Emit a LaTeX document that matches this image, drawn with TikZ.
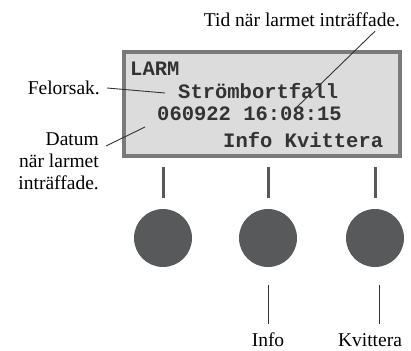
\documentclass[tikz,border=0pt]{standalone}
\usepackage{fontspec}
\setmainfont{Liberation Serif}
\setmonofont{Liberation Mono}
\definecolor{dispgray}{HTML}{7A7A7A}
\definecolor{dispbg}{HTML}{DCDCDC}
\definecolor{knobgray}{HTML}{58595B}
\definecolor{lcdtext}{HTML}{333333}
\usetikzlibrary{positioning}

\begin{document}
\begin{tikzpicture}[x=1pt, y=-1pt,
      disp/.style={draw=dispgray, fill=dispbg, line width=4pt,
                   minimum width=276pt, minimum height=103pt, inner sep=0pt},
      lcd/.style={font=\fontsize{20.5}{22}\selectfont\ttfamily\bfseries,
                  text=lcdtext, inner sep=0pt, anchor=base west},
      lbl/.style={font=\fontsize{19.5}{22}\selectfont, inner sep=0pt},
      knob/.style={circle, fill=knobgray, minimum size=58pt, inner sep=0pt},
      tick/.style={draw=knobgray, line width=3pt},
      lead/.style={draw=lcdtext, line width=0.9pt}
  ]
    \useasboundingbox (0,0) rectangle (411,350);
    % display
    \node[disp] (disp) at (262,104) {};
    \node[lcd] (larm) at (130,76) {LARM};
    \node[lcd] (orsak) at (178,98) {Strömbortfall};
    \node[lcd] (tid) at (157,120) {060922 16:08:15};
    \node[lcd] (meny) at (223,147) {Info Kvittera};
    % knappar
    \node[knob] (b1) at (163,238) {};
    \node[knob] (b2) at (268,238) {};
    \node[knob] (b3) at (375,238) {};
    \foreach \b in {b1,b2,b3}
      \draw[tick, shorten <=11pt, shorten >=9.5pt] (\b) -- (\b |- disp.south);
    % etiketter
    \node[lbl] (ltid) at (302,20) {Tid när larmet inträffade.};
    \node[lbl, anchor=east] (lorsak) at (100,88) {Felorsak.};
    \node[lbl, anchor=north east, align=right] (ldatum) at (99,133)
      {Datum\\när larmet\\inträffade.};
    \node[lbl] (linfo) at (268,340) {Info};
    \node[lbl] (lkvitt) at (370,340) {Kvittera};
    \coordinate (ptid) at (297,107);
    \coordinate (porsak) at (165,93);
    \coordinate (pdatum) at (145,127);
    \draw[lead] (ltid.south) ++(73,4) -- (ptid);
    \draw[lead] (lorsak.east) ++(7,0) -- (porsak);
    \draw[lead] (ldatum.north east) ++(7,13) -- (pdatum);
    \draw[lead, shorten <=18pt, shorten >=9pt] (b2) -- (b2 |- linfo.north);
    \draw[lead, shorten <=18pt, shorten >=9pt] ([xshift=4pt]b3.south) -- ([xshift=4pt]b3.south |- lkvitt.north);
  \end{tikzpicture}
\end{document}
